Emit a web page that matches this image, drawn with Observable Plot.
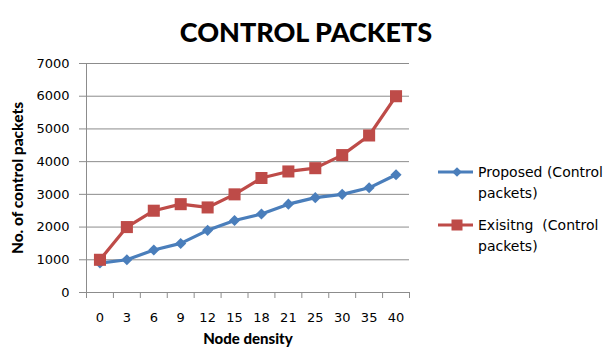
<!DOCTYPE html>
<html>
<head>
<meta charset="utf-8">
<script src="https://cdn.jsdelivr.net/npm/d3@7"></script>
<script src="https://cdn.jsdelivr.net/npm/@observablehq/plot@0.6"></script>
<style>
  body { margin: 0; background: #fff; }
  #chart { width: 610px; height: 352px; overflow: hidden; }
  #chart svg { display: block; }
</style>
</head>
<body>
<div id="chart"></div>
<script>
// Node density categories (x axis) and packet counts per series
const nodeDensity = ["0", "3", "6", "9", "12", "15", "18", "21", "25", "30", "35", "40"];
const proposed = [900, 1000, 1300, 1500, 1900, 2200, 2400, 2700, 2900, 3000, 3200, 3600];
const existing = [1000, 2000, 2500, 2700, 2600, 3000, 3500, 3700, 3800, 4200, 4800, 6000];
const seriesNames = ["Proposed (Control packets)", "Exisitng  (Control packets)"];
const yTicks = [0, 1000, 2000, 3000, 4000, 5000, 6000, 7000];

const blue = "#4a7ebb";
const red = "#be4b48";
const axisGray = "#8c8c8c";

// Each category sits in the middle of a unit-wide slot on a linear x scale
const mid = (d, i) => i + 0.5;

const chart = Plot.plot({
  width: 610,
  height: 352,
  marginTop: 63,
  marginLeft: 86,
  marginRight: 201,
  marginBottom: 60,
  style: { fontFamily: "DejaVu Sans, Verdana, sans-serif", fontSize: "13px", color: "#000", background: "#fff" },
  x: { domain: [0, nodeDensity.length] },
  y: { domain: [0, 7000] },
  marks: [
    Plot.gridY(yTicks, { stroke: axisGray, strokeOpacity: 1 }),
    Plot.ruleX([0], { stroke: axisGray }),
    Plot.ruleY([0], { stroke: axisGray }),
    Plot.axisY(yTicks, { tickSize: 7, tickPadding: 10, stroke: axisGray, label: null, tickFormat: d => String(d) }),
    Plot.axisX(d3.range(nodeDensity.length + 1), { tickSize: 6, stroke: axisGray, tickFormat: () => "", label: null }),
    Plot.axisX(nodeDensity.map(mid), { tickSize: 0, tickPadding: 20, tickFormat: d => nodeDensity[Math.floor(d)], label: null }),
    Plot.line(proposed, { x: mid, y: d => d, stroke: blue, strokeWidth: 3.2 }),
    Plot.dot(proposed, { x: mid, y: d => d, symbol: "diamond2", r: 5, fill: blue, stroke: null }),
    Plot.line(existing, { x: mid, y: d => d, stroke: red, strokeWidth: 3.2 }),
    Plot.dot(existing, { x: mid, y: d => d, symbol: "square", r: 6.8, fill: red, stroke: null }),
    Plot.text(["CONTROL PACKETS"], { frameAnchor: "top", dx: 58, dy: -41, fontFamily: "Lato, sans-serif", fontWeight: "900", fontSize: 27 }),
    Plot.text(["Node density"], { frameAnchor: "bottom", dy: 51, fontFamily: "Lato, sans-serif", fontWeight: "900", fontSize: 15 }),
    Plot.text(["No. of control packets"], { frameAnchor: "left", textAnchor: "middle", dx: -68, rotate: -90, fontFamily: "Lato, sans-serif", fontWeight: "900", fontSize: 15.5 })
  ]
});

// Legend to the right of the plot area
const svg = d3.select(chart);
const legend = svg.append("g")
  .attr("font-family", "DejaVu Sans, Verdana, sans-serif")
  .attr("font-size", 14)
  .attr("text-anchor", "start");
const entries = [
  { lines: ["Proposed (Control", "packets)"], color: blue, y: 172, shape: "diamond" },
  { lines: ["Exisitng\u00a0 (Control", "packets)"], color: red, y: 225, shape: "square" }
];
entries.forEach(e => {
  const g = legend.append("g").attr("transform", `translate(0,${e.y})`);
  g.append("line").attr("x1", 438).attr("x2", 473).attr("y1", 0).attr("y2", 0)
    .attr("stroke", e.color).attr("stroke-width", 3.2);
  if (e.shape === "diamond") {
    g.append("path").attr("d", d3.symbol(d3.symbolDiamond2, 60)()).attr("transform", "translate(457,0)").attr("fill", e.color);
  } else {
    g.append("rect").attr("x", 451.5).attr("y", -5.5).attr("width", 11).attr("height", 11).attr("fill", e.color);
  }
  const t = g.append("text").attr("fill", "#000");
  e.lines.forEach((line, k) => {
    t.append("tspan").attr("x", 478).attr("y", 5 + k * 21).text(line);
  });
});

document.getElementById("chart").appendChild(chart);
</script>
</body>
</html>
